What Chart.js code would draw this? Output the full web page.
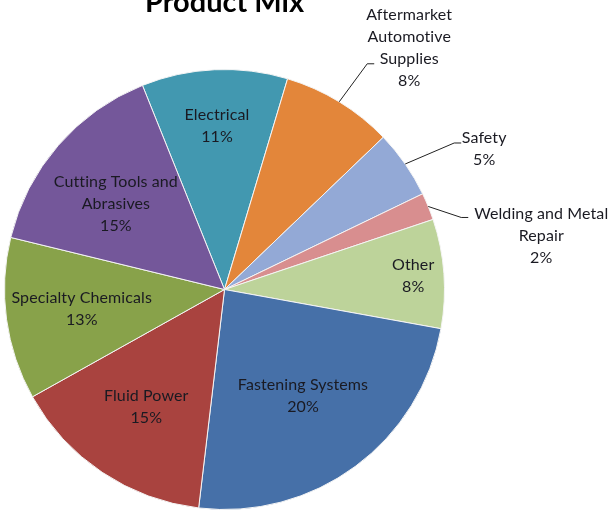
<!DOCTYPE html>
<html>
<head>
<meta charset="utf-8">
<script src="https://cdn.jsdelivr.net/npm/chart.js@4"></script>
<style>
  html, body { margin: 0; padding: 0; background: #fff; }
  #wrap { width: 612px; height: 518px; position: relative; }
</style>
</head>
<body>
<div id="wrap"><canvas id="mix" width="612" height="518"></canvas></div>
<script>
// values (slice angles), starting with Electrical, clockwise
const categories = ["Electrical", "Aftermarket Automotive Supplies", "Safety", "Welding and Metal Repair",
  "Other", "Fastening Systems", "Fluid Power", "Specialty Chemicals", "Cutting Tools and Abrasives"];
const shares = [10.7, 8.2, 5.0, 2.0, 8.0, 24.0, 15.0, 11.9, 15.1];
// percentages as printed on the labels
const printedPct = ["11%", "8%", "5%", "2%", "8%", "20%", "15%", "13%", "15%"];
// label text lines as wrapped in the picture
const labelLines = [
  ["Electrical"],
  ["Aftermarket", "Automotive", "Supplies"],
  ["Safety"],
  ["Welding and Metal", "Repair"],
  ["Other"],
  ["Fastening Systems"],
  ["Fluid Power"],
  ["Specialty Chemicals"],
  ["Cutting Tools and", "Abrasives"]
];
const chartTitle = "Product Mix";

const colors = ["#4298B0", "#E3863A", "#93A9D6", "#D88E8F", "#BDD39A", "#4670A8", "#A9433F", "#88A24A", "#74579A"];
// inside labels: fraction of radius + small angle nudge (deg); outside labels: null (callout)
const labelRadius = [0.745, null, null, null, 0.86, 0.6, 0.64, 0.655, 0.63];
const labelNudge = [0, 0, 0, 0, 0, 0, 0, 0, -2.5];
// callout: elbow offset from slice edge, then text offset from elbow
const callout = [null,
  { elbow: [28, -38], text: [42, -16] },
  { elbow: [49, -21], text: [30, 6] },
  { elbow: [33, 11], text: [80, 18] },
  null, null, null, null, null];

const FONT = "Lato, 'Open Sans', sans-serif";
const LINE = 22;

const labelPlugin = {
  id: 'labels',
  afterDatasetsDraw(chart) {
    const ctx = chart.ctx;
    const arcs = chart.getDatasetMeta(0).data;
    ctx.save();
    ctx.textAlign = 'center';
    ctx.textBaseline = 'middle';
    ctx.font = "16px " + FONT;
    ctx.letterSpacing = "0.1px";
    arcs.forEach((arc, i) => {
      const mid = (arc.startAngle + arc.endAngle) / 2 + labelNudge[i] * Math.PI / 180;
      const lines = labelLines[i].concat([printedPct[i]]);
      let cx, cy;
      if (labelRadius[i] !== null) {
        const r = arc.outerRadius * labelRadius[i];
        cx = arc.x + Math.cos(mid) * r;
        cy = arc.y + Math.sin(mid) * r;
      } else {
        const ex = arc.x + Math.cos(mid) * arc.outerRadius;
        const ey = arc.y + Math.sin(mid) * arc.outerRadius;
        const bx = ex + callout[i].elbow[0];
        const by = ey + callout[i].elbow[1];
        ctx.strokeStyle = '#222';
        ctx.lineWidth = 1;
        ctx.beginPath();
        ctx.moveTo(ex, ey);
        ctx.lineTo(bx, by);
        ctx.lineTo(bx + 7, by);
        ctx.stroke();
        cx = bx + callout[i].text[0];
        cy = by + callout[i].text[1];
      }
      ctx.fillStyle = '#1a1a22';
      const top = cy - (lines.length - 1) * LINE / 2;
      lines.forEach((t, k) => ctx.fillText(t, cx, top + k * LINE));
    });
    // title, cut off at the top edge
    ctx.font = "bold 29px " + FONT;
    ctx.letterSpacing = "0px";
    ctx.textBaseline = 'alphabetic';
    ctx.fillStyle = '#000';
    ctx.fillText(chartTitle, arcs[0].x, 12);
    ctx.restore();
  }
};

new Chart(document.getElementById('mix'), {
  type: 'pie',
  data: {
    labels: categories,
    datasets: [{
      data: shares,
      backgroundColor: colors,
      borderColor: '#f4f4f4',
      borderWidth: 1
    }]
  },
  options: {
    responsive: false,
    animation: false,
    rotation: -21.9,
    layout: { padding: { left: 4, top: 69, right: 167, bottom: 8 } },
    plugins: {
      legend: { display: false },
      title: { display: false },
      tooltip: { enabled: false }
    }
  },
  plugins: [labelPlugin]
});
</script>
</body>
</html>
